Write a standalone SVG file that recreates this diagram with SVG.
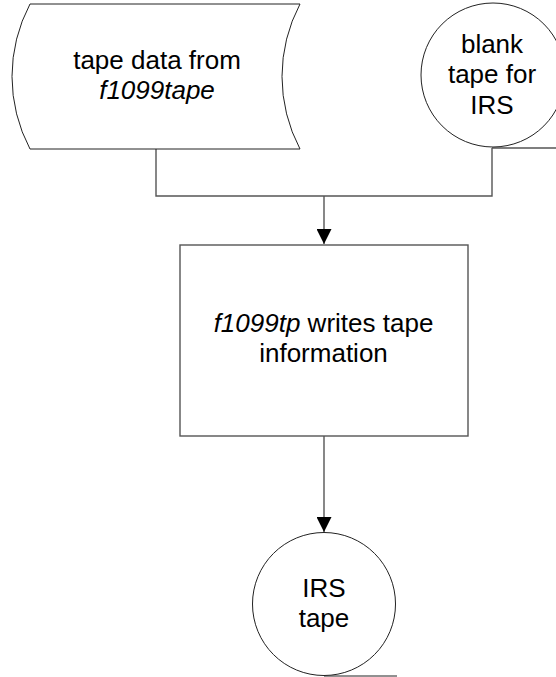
<svg xmlns="http://www.w3.org/2000/svg" width="556" height="677" viewBox="0 0 556 677">
  <defs>
    <marker id="arrow" markerUnits="userSpaceOnUse" markerWidth="16" markerHeight="15" refX="15" refY="7.5" orient="auto">
      <path d="M0,0 L15,7.5 L0,15 Z" fill="#000"/>
    </marker>
  </defs>
  <style>
    .shape { fill: #fff; stroke: #222; stroke-width: 1; }
    .box { fill: #fff; stroke: #555; stroke-width: 1.4; }
    .wire { fill: none; stroke: #555; stroke-width: 1.4; }
    .label { font-family: "Liberation Sans", Arial, sans-serif; font-size: 26px; fill: #000; text-anchor: middle; }
    .it { font-style: italic; }
  </style>
  <rect width="556" height="677" fill="#fff"/>

  <g id="connectors">
    <path class="wire" d="M156,149 V196 H492 V148"/>
    <path class="wire" d="M492,148 H556"/>
    <path class="wire" d="M324,196 V244" marker-end="url(#arrow)"/>
    <path class="wire" d="M324,436 V532" marker-end="url(#arrow)"/>
    <path class="wire" d="M324,676 H397" style="stroke:#222;stroke-width:1"/>
  </g>

  <g id="tape-data">
    <path class="shape" d="M30,4 L300,4 A155,155 0 0 0 300,149 L30,149 A155,155 0 0 1 30,4 Z"/>
    <text class="label" x="157" y="69">tape data from</text>
    <text class="label it" x="157" y="99">f1099tape</text>
  </g>

  <g id="blank-tape">
    <circle class="shape" cx="493" cy="75" r="72"/>
    <text class="label" x="492" y="53">blank</text>
    <text class="label" x="492" y="83">tape for</text>
    <text class="label" x="492" y="114">IRS</text>
  </g>

  <g id="writer">
    <rect class="box" x="180" y="245" width="288" height="191"/>
    <text class="label" x="323.5" y="332"><tspan class="it">f1099tp</tspan> writes tape</text>
    <text class="label" x="323.5" y="362">information</text>
  </g>

  <g id="irs-tape">
    <circle class="shape" cx="324" cy="604" r="71.5"/>
    <text class="label" x="324" y="597">IRS</text>
    <text class="label" x="324" y="627">tape</text>
  </g>
</svg>
